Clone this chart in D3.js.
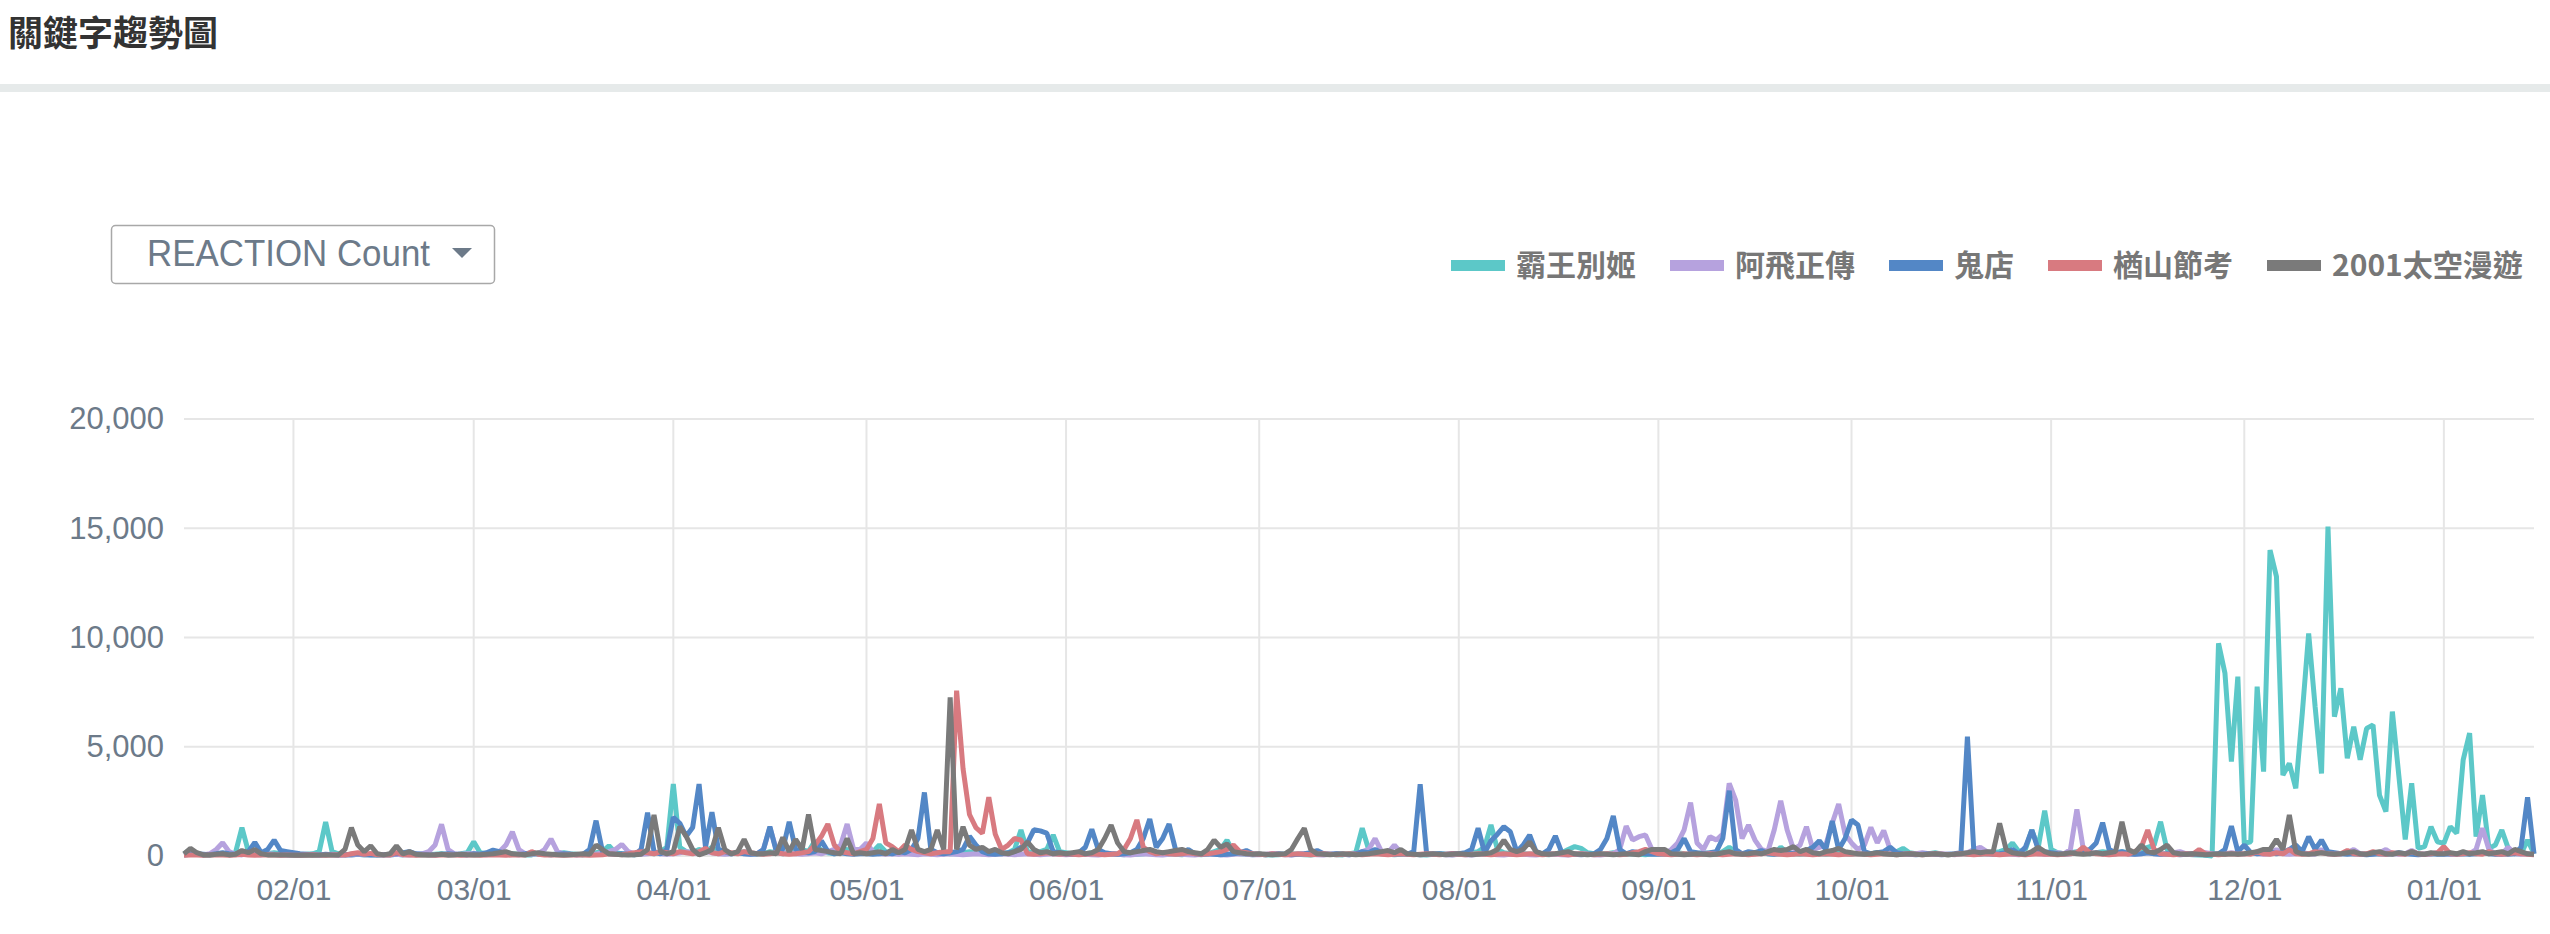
<!DOCTYPE html>
<html><head><meta charset="utf-8">
<script src="https://cdn.jsdelivr.net/npm/d3@7/dist/d3.min.js"></script>
<style>
html,body{margin:0;padding:0;background:#fff;}
svg{display:block;}
</style></head>
<body>
<svg id="chart" width="2550" height="934"></svg>
<script>
// ---------------- DATA ----------------
const title = "關鍵字趨勢圖";
const metricLabel = "REACTION Count";
const seriesNames = ["霸王別姬", "阿飛正傳", "鬼店", "楢山節考", "2001太空漫遊"];
const startDate = "2019-01-15";           // first daily point
const yTicks = [0, 5000, 10000, 15000, 20000];

// daily values, Jan 15 -> Jan 15 next year (one line per month)
const teal = [
 100,300,100,50,50,80,100,100,150,1300,200,100,80,100,150,100,50,
 50,50,80,100,200,1550,200,100,50,50,80,50,50,60,50,50,80,50,100,50,50,60,80,100,50,60,100,150,
 650,150,100,80,100,150,100,80,50,50,100,80,60,100,150,100,80,50,100,150,200,470,150,100,80,60,100,150,100,200,400,
 3300,400,200,150,300,200,400,200,150,100,150,200,100,80,100,200,150,100,200,150,300,200,700,200,150,100,200,300,150,200,
 150,200,500,200,150,100,200,150,100,200,150,100,150,100,100,150,200,150,100,150,200,100,150,300,1190,200,150,200,300,960,200,
 150,100,80,100,150,100,80,100,80,60,100,80,100,150,100,80,100,80,60,100,80,60,100,200,300,730,150,100,80,60,
 80,60,50,60,80,100,80,60,50,80,100,80,60,50,100,150,1270,300,150,100,80,60,80,100,80,60,50,80,100,80,60,
 80,100,150,200,400,1420,300,150,100,150,100,80,100,80,60,100,150,300,430,350,150,100,80,100,150,100,80,100,80,60,100,
 100,80,100,150,100,80,100,150,100,80,200,400,200,100,80,100,150,100,80,400,150,100,80,100,150,100,80,100,150,100,
 80,100,80,100,150,100,80,200,350,150,100,80,100,150,80,60,80,100,80,100,80,100,150,200,300,600,200,300,1190,400,2075,
 300,150,100,150,200,150,100,150,200,150,100,200,150,100,300,400,500,1570,300,150,100,80,60,50,30,0,9736,8360,4320,8210,
 580,650,7750,3860,14000,12790,3700,4240,3100,6500,10190,6840,3780,15080,6380,7680,4470,5920,4400,5840,6000,2790,2030,6610,3700,760,3330,350,430,1340,650,
 580,1340,1040,4400,5620,890,2790,350,500,1190,350,100,100,730,100
];
const purple = [
 50,100,80,50,100,300,610,200,80,50,100,80,50,100,80,50,60,
 50,50,60,80,50,60,80,50,60,50,80,60,50,80,60,50,80,60,50,80,100,200,500,1450,300,100,80,100,
 100,80,60,100,200,500,1100,300,100,80,100,300,780,200,100,80,60,80,100,80,150,200,300,530,200,100,80,100,150,100,80,
 100,150,200,150,100,200,150,100,80,100,150,100,80,100,300,1300,300,100,150,100,80,100,150,100,200,300,500,1460,300,300,
 600,200,100,80,100,80,100,80,60,100,80,60,80,100,80,60,80,100,80,60,80,100,80,60,80,100,80,60,80,100,80,
 60,80,100,80,60,50,80,100,80,60,50,80,100,80,60,50,80,100,80,60,50,80,100,80,60,50,80,100,80,60,
 60,80,100,80,60,50,80,100,80,60,50,80,100,80,60,100,200,300,800,200,150,500,150,100,80,60,80,100,80,60,50,
 80,60,50,80,100,80,60,50,80,100,80,60,50,80,100,80,60,50,80,100,80,60,50,80,100,300,1370,730,885,960,300,
 150,100,300,600,1200,2440,600,300,885,730,1000,3326,2560,800,1420,730,300,200,1200,2530,1190,300,500,1340,300,400,500,1500,2380,1000,
 600,300,500,1310,600,1160,300,150,100,80,100,150,100,80,100,80,60,100,150,300,400,200,100,80,100,80,60,100,150,100,80,
 100,150,100,300,2135,300,100,150,100,80,100,150,100,80,100,150,100,80,100,150,200,100,80,100,150,100,80,100,150,100,
 100,150,100,80,100,300,100,80,100,150,100,80,300,100,80,100,150,300,100,80,100,150,300,100,80,100,250,100,80,100,150,
 100,80,100,150,100,300,1270,300,100,80,400,100,80,100,80
];
const blue = [
 50,80,100,80,60,100,150,100,80,150,200,625,150,300,730,250,200,
 150,100,80,60,50,80,60,50,60,80,100,80,60,50,60,80,100,150,200,100,80,60,50,80,100,80,60,50,
 100,80,150,270,200,100,80,60,100,150,100,80,60,80,100,80,60,80,300,1617,200,100,80,100,80,60,300,1983,200,100,300,
 1770,1500,900,1300,3295,400,2010,300,200,100,150,100,80,100,300,1340,200,300,1570,300,200,150,200,700,200,100,150,100,80,100,
 100,80,100,150,100,200,150,300,800,2910,300,150,100,150,200,300,900,500,200,100,80,100,150,200,400,600,1200,1150,1050,200,150,
 100,80,150,400,1220,300,150,100,80,100,150,300,800,1690,400,800,1460,300,150,300,100,80,100,80,60,80,100,150,250,100,
 80,60,80,100,80,60,80,100,150,250,100,80,100,80,60,100,200,150,300,150,100,80,100,80,200,3280,100,80,100,80,120,
 100,150,300,1270,150,700,1000,1340,1110,200,500,960,200,100,300,915,150,100,80,60,80,100,300,800,1830,300,100,200,150,100,80,
 80,100,150,300,800,200,150,100,150,200,800,2990,300,100,200,150,250,100,80,100,150,100,200,250,400,700,300,1600,300,800,
 1650,1420,200,100,150,200,400,150,100,80,60,80,100,80,60,80,100,150,5460,200,150,100,80,100,150,300,100,400,1190,300,200,
 150,100,80,100,150,200,300,600,1525,300,150,200,100,80,100,150,100,80,100,80,60,80,100,80,60,80,100,300,1370,200,
 500,150,100,150,200,100,150,300,500,200,885,300,730,200,150,100,80,100,80,60,80,100,80,100,150,100,80,60,80,100,80,
 80,100,80,100,80,100,150,100,80,100,80,100,400,2690,100
];
const red = [
 30,50,40,30,50,60,40,30,50,80,40,30,50,60,40,30,50,
 40,30,50,60,40,30,50,60,40,100,150,80,120,60,40,50,150,60,40,30,50,40,30,50,60,40,30,50,
 40,30,50,60,40,30,50,60,40,200,80,50,60,40,30,50,60,40,30,50,60,100,80,60,100,150,200,150,100,200,150,
 100,200,150,100,200,350,150,100,200,150,100,200,150,100,80,100,150,100,80,100,150,200,500,900,1460,500,200,150,100,200,
 300,800,2380,600,430,200,500,300,200,150,100,150,200,200,7570,4000,1900,1300,1040,2690,1000,300,500,800,730,100,80,100,150,100,80,
 100,80,60,80,100,80,60,80,100,300,800,1650,400,200,100,150,100,80,100,150,100,80,100,150,200,300,500,200,150,100,
 80,60,100,80,60,80,100,80,60,80,100,80,60,80,100,80,60,80,100,80,60,80,100,80,60,80,100,80,60,80,100,
 80,60,80,100,80,60,80,100,80,60,80,100,80,60,80,100,80,60,80,100,80,60,80,100,80,60,80,150,200,300,200,
 100,80,60,80,100,80,60,80,100,80,60,80,100,80,60,80,100,150,100,80,60,80,100,80,60,80,100,80,60,80,
 80,100,80,60,80,100,80,60,80,100,80,60,80,100,80,60,80,100,80,60,80,100,80,60,80,100,80,60,80,100,80,
 80,60,80,100,150,400,150,100,80,60,80,100,80,200,400,1190,300,100,80,60,80,100,80,300,100,80,60,80,100,80,
 100,80,200,100,80,150,100,300,100,80,100,200,150,100,80,100,250,100,80,100,200,100,80,150,100,80,200,100,80,100,150,
 430,100,80,100,150,100,80,200,100,80,100,150,100,80,60
];
const gray = [
 100,350,150,50,50,80,100,50,80,250,150,300,100,50,60,50,40,
 30,30,40,30,40,50,40,50,300,1300,500,200,470,100,50,100,460,100,200,80,60,50,60,80,50,60,80,60,
 50,60,80,100,150,200,100,80,60,100,150,100,80,60,50,60,80,100,80,500,300,100,80,60,50,60,80,300,1880,200,100,
 200,1340,900,300,50,150,300,1300,300,100,200,760,150,100,100,150,100,850,200,760,300,1900,300,250,200,150,100,800,100,150,
 100,150,200,100,300,150,300,1190,300,200,300,1190,300,7260,300,1340,500,300,400,200,300,150,100,200,300,650,300,150,200,100,150,
 100,150,200,100,150,300,800,1420,600,200,150,200,250,300,200,150,200,250,300,200,150,100,300,730,400,550,200,150,100,80,
 100,80,60,80,100,300,800,1270,300,100,80,60,80,100,80,60,80,100,150,200,250,150,300,100,80,60,80,100,80,60,80,
 100,80,60,80,100,150,300,730,300,200,300,650,200,100,80,100,150,200,100,80,60,80,100,80,60,80,100,80,60,200,300,
 300,300,100,80,60,80,100,80,60,80,150,200,100,80,100,150,100,200,300,250,300,430,200,300,150,100,200,250,350,200,
 150,100,80,100,150,100,80,60,80,100,80,60,80,100,80,60,80,100,150,200,150,200,200,1500,300,150,100,80,200,400,200,
 100,80,100,150,100,80,100,150,100,150,200,1570,300,150,500,200,150,300,500,150,100,80,100,80,60,80,100,80,100,80,
 100,150,200,300,300,760,300,1880,200,100,80,100,150,100,80,100,150,200,100,80,150,200,100,80,150,100,200,100,80,150,100,
 100,150,100,200,100,150,200,100,150,200,100,300,200,100,80
];
const seriesColors = ["#5cc8c8", "#b6a2de", "#5387c6", "#d87a80", "#7a7a7a"];

// ---------------- DRAW ----------------
const svg = d3.select("#chart");
const W = 2550, H = 934;
const plot = {left: 184, right: 2534, top: 419, bottom: 856};
const axisColor = "#6c7a89";
const allSeries = [teal, purple, blue, red, gray];

// header
svg.append("text").attr("x", 8).attr("y", 46)
  .attr("font-family", "'Noto Sans CJK TC','Noto Sans CJK SC',sans-serif")
  .attr("font-weight", "bold").attr("font-size", 35).attr("fill", "#333")
  .text(title);
svg.append("rect").attr("x", 0).attr("y", 84).attr("width", W).attr("height", 8).attr("fill", "#e6eaea");

// dropdown
svg.append("rect").attr("x", 111.5).attr("y", 225.5).attr("width", 383).attr("height", 58).attr("rx", 4)
  .attr("fill", "#fff").attr("stroke", "#a8a8a8").attr("stroke-width", 1.5);
svg.append("text").attr("x", 147).attr("y", 266)
  .attr("font-family", "'Liberation Sans',Arial,sans-serif").attr("font-size", 37)
  .attr("textLength", 283).attr("lengthAdjust", "spacingAndGlyphs")
  .attr("fill", axisColor).text(metricLabel);
svg.append("path").attr("d", "M452,248 L472,248 L462,258 Z").attr("fill", axisColor);

// scales
const parse = d3.utcParse("%Y-%m-%d");
const t0 = parse(startDate);
const nDays = d3.max(allSeries, s => s.length);
const x = d3.scaleUtc().domain([t0, d3.utcDay.offset(t0, nDays - 1)]).range([plot.left, plot.right]);
const y = d3.scaleLinear().domain([0, 20000]).range([plot.bottom, plot.top]);

// grid
const gridColor = "#e6e6e6";
svg.append("g").selectAll("line").data(yTicks).join("line")
  .attr("x1", plot.left).attr("x2", plot.right)
  .attr("y1", d => y(d)).attr("y2", d => y(d))
  .attr("stroke", gridColor).attr("stroke-width", 2);
const monthTicks = x.ticks(d3.utcMonth.every(1)).filter(d => x(d) > plot.left + 5 && x(d) < plot.right - 5);
svg.append("g").selectAll("line").data(monthTicks).join("line")
  .attr("x1", d => x(d)).attr("x2", d => x(d))
  .attr("y1", plot.top).attr("y2", plot.bottom)
  .attr("stroke", gridColor).attr("stroke-width", 2);

// axes (text only)
const yAxis = d3.axisLeft(y).tickValues(yTicks).tickFormat(d3.format(",")).tickSize(0).tickPadding(20);
const gy = svg.append("g").attr("transform", `translate(${plot.left},0)`).call(yAxis);
gy.select(".domain").remove();
gy.selectAll("text").attr("font-family", "'Liberation Sans',Arial,sans-serif").attr("font-size", 31).attr("fill", axisColor);

const xAxis = d3.axisBottom(x).tickValues(monthTicks).tickFormat(d3.utcFormat("%m/%d")).tickSize(0).tickPadding(23);
const gx = svg.append("g").attr("transform", `translate(0,${plot.bottom})`).call(xAxis);
gx.select(".domain").remove();
gx.selectAll("text").attr("font-family", "'Liberation Sans',Arial,sans-serif").attr("font-size", 30).attr("fill", axisColor);

// lines
const line = d3.line().x((d, i) => x(d3.utcDay.offset(t0, i))).y(d => y(d));
const gl = svg.append("g");
allSeries.forEach((s, k) => {
  gl.append("path").datum(s).attr("d", line)
    .attr("fill", "none").attr("stroke", seriesColors[k]).attr("stroke-width", 5)
    .attr("stroke-linejoin", "bevel");
});

// legend
const lg = svg.append("g");
let cx = 1451;
seriesNames.forEach((name, k) => {
  lg.append("rect").attr("x", cx).attr("y", 260).attr("width", 54).attr("height", 11).attr("fill", seriesColors[k]);
  const t = lg.append("text").attr("x", cx + 65).attr("y", 276)
    .attr("font-family", "'Noto Sans CJK TC','Noto Sans CJK SC',sans-serif")
    .attr("font-weight", "bold").attr("font-size", 30).attr("fill", "#777").text(name);
  cx += 65 + t.node().getComputedTextLength() + 34;
});
</script>
</body></html>
